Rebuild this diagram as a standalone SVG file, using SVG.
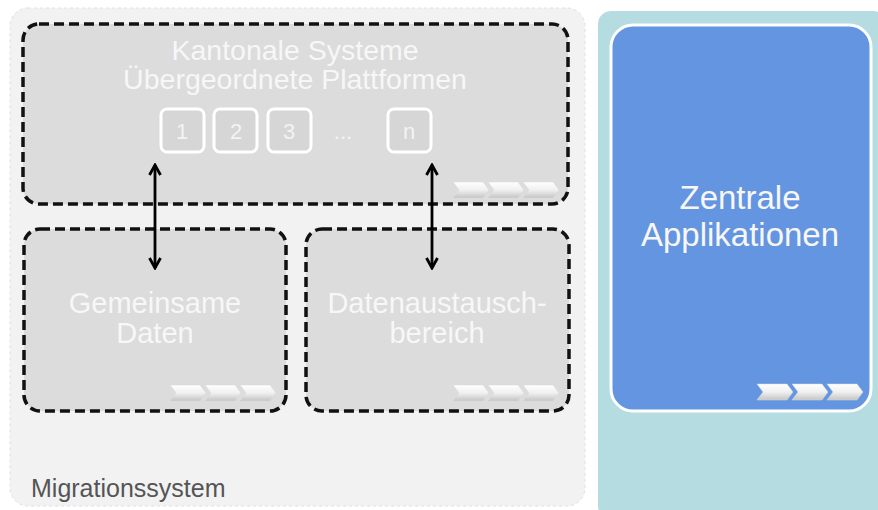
<svg xmlns="http://www.w3.org/2000/svg" width="878" height="510" viewBox="0 0 878 510">
<defs>
<linearGradient id="chev" x1="0" y1="0" x2="0" y2="1">
<stop offset="0" stop-color="#ffffff"/>
<stop offset="0.5" stop-color="#f0f0f0"/>
<stop offset="1" stop-color="#c4c4c4"/>
</linearGradient>
<marker id="ah" viewBox="0 0 14 14" refX="12" refY="7" markerWidth="14" markerHeight="14" orient="auto-start-reverse" markerUnits="userSpaceOnUse">
<path d="M2,1.5 L12,7 L2,12.5" fill="none" stroke="#000" stroke-width="2.8"/>
</marker>
<g id="chevs">
<path d="M0,0 H30 L36,8 L30,16 H0 L6,8 Z" fill="url(#chev)" stroke="#d8d8d8" stroke-width="0.5"/>
<path d="M35,0 H65 L71,8 L65,16 H35 L41,8 Z" fill="url(#chev)" stroke="#d8d8d8" stroke-width="0.5"/>
<path d="M70,0 H100 L106,8 L100,16 H70 L76,8 Z" fill="url(#chev)" stroke="#d8d8d8" stroke-width="0.5"/>
</g>
</defs>
<style>
.dash{fill:#dcdcdc;stroke:#111;stroke-width:3.5;stroke-dasharray:10 5}
.lbl{font-family:"Liberation Sans",Arial,sans-serif;fill:#f7f7f7;text-anchor:middle}
.sq{fill:#d6d6d6;stroke:#fff;stroke-width:3}
.num{font-family:"Liberation Sans",Arial,sans-serif;fill:#f3f3f3;font-size:22px;text-anchor:middle}
</style>
<rect width="878" height="510" fill="#ffffff"/>
<g id="migrationssystem">
<rect x="10" y="8" width="575" height="498" rx="18" fill="#f2f2f2" stroke="#e0e0e0" stroke-width="1" stroke-dasharray="3 3"/>
<text x="31" y="497" font-family="'Liberation Sans',Arial,sans-serif" font-size="25" fill="#555">Migrationssystem</text>
</g>
<g id="zentral-container">
<rect x="597" y="10" width="290" height="510" rx="14" fill="#b5dde1" stroke="#ffffff" stroke-width="2"/>
</g>
<g id="zentrale-applikationen">
<rect x="611" y="25" width="260" height="386" rx="22" fill="#6495e0" stroke="#ffffff" stroke-width="3"/>
<text class="lbl" x="740" y="209" font-size="33" fill="#ffffff">Zentrale</text>
<text class="lbl" x="740" y="246" font-size="33" fill="#ffffff">Applikationen</text>
<use href="#chevs" x="757" y="384"/>
</g>
<g id="kantonale-systeme">
<rect class="dash" x="23" y="24" width="545" height="180" rx="16"/>
<text class="lbl" x="295" y="60" font-size="28.5">Kantonale Systeme</text>
<text class="lbl" x="295" y="89" font-size="28.5">Übergeordnete Plattformen</text>
<rect class="sq" x="161" y="109" width="43" height="43" rx="6"/>
<text class="num" x="182" y="139">1</text>
<rect class="sq" x="214" y="109" width="43" height="43" rx="6"/>
<text class="num" x="236" y="139">2</text>
<rect class="sq" x="268" y="109" width="43" height="43" rx="6"/>
<text class="num" x="289" y="139">3</text>
<text class="num" x="343" y="139">...</text>
<rect class="sq" x="388" y="109" width="43" height="43" rx="6"/>
<text class="num" x="409" y="139">n</text>
<use href="#chevs" x="453" y="182"/>
</g>
<g id="gemeinsame-daten">
<rect class="dash" x="24" y="229" width="262" height="182" rx="16"/>
<text class="lbl" x="155" y="313" font-size="29">Gemeinsame</text>
<text class="lbl" x="155" y="343" font-size="29">Daten</text>
<use href="#chevs" x="170" y="385"/>
</g>
<g id="datenaustauschbereich">
<rect class="dash" x="306" y="229" width="263" height="182" rx="16"/>
<text class="lbl" x="437" y="313" font-size="29">Datenaustausch-</text>
<text class="lbl" x="437" y="343" font-size="29">bereich</text>
<use href="#chevs" x="453" y="385"/>
</g>
<g id="connectors" stroke="#000" stroke-width="2.8" fill="none">
<line x1="155" y1="165" x2="155" y2="268" marker-start="url(#ah)" marker-end="url(#ah)"/>
<line x1="432" y1="165" x2="432" y2="268" marker-start="url(#ah)" marker-end="url(#ah)"/>
</g>
</svg>
